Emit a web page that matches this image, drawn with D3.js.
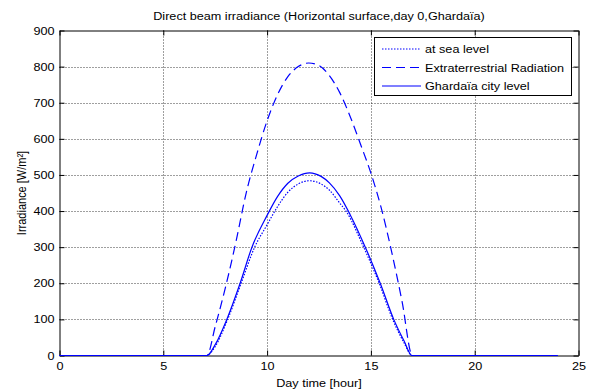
<!DOCTYPE html>
<html>
<head>
<meta charset="utf-8">
<script src="https://cdn.jsdelivr.net/npm/d3@7"></script>
<style>
  html, body { margin: 0; padding: 0; background: #fff; }
  svg { display: block; font-family: "Liberation Sans", Arial, sans-serif; }
</style>
</head>
<body>
<svg id="chart" width="590" height="392"></svg>
<script>
// ---- Data ----
const seaHours = [0, 7.1, 7.5, 8.1, 8.75, 9.4, 10, 10.5, 11, 11.5, 12.05, 12.6, 13, 13.5, 13.8, 14.65, 15.4, 16.05, 16.6, 16.98, 24];
const seaValues = [0, 0, 25, 100, 200, 300, 362, 412, 452, 475, 484, 475, 458, 422, 400, 300, 200, 100, 35, 0, 0];

const extraHours = [0, 7.1, 7.5, 8, 8.5, 9, 9.5, 10, 10.5, 11, 11.5, 12, 12.5, 13, 13.5, 14, 14.5, 15, 15.5, 16, 16.5, 17, 24];
const extraValues = [0, 0, 80, 190, 315, 452, 557, 650, 722, 772, 800, 810, 803, 775, 728, 662, 585, 505, 408, 287, 150, 0, 0];

const cityHours = [0, 7.1, 7.5, 8.06, 8.7, 9.27, 10, 10.5, 11, 11.5, 12.05, 12.6, 13, 13.5, 14, 14.73, 15.45, 16.1, 16.6, 16.98, 24];
const cityValues = [0, 0, 30, 100, 200, 300, 388, 440, 477, 497, 506, 496, 478, 442, 390, 300, 200, 100, 40, 0, 0];

const xTicks = [0, 5, 10, 15, 20, 25];
const yTicks = [0, 100, 200, 300, 400, 500, 600, 700, 800, 900];

const titleText = "Direct beam irradiance (Horizontal surface,day 0,Ghardaïa)";
const xLabel = "Day time [hour]";
const yLabel = "Irradiance [W/m²]";
const legendLabels = ["at sea level", "Extraterrestrial Radiation", "Ghardaïa city level"];

// ---- Layout ----
const svg = d3.select("#chart");
const L = 59.5, R = 578.5, T = 30.5, B = 355.5;
const SX = 1.15; // horizontal stretch of the text in the reference
const FS = 11;
const x = d3.scaleLinear().domain([0, 25]).range([L, R]);
const y = d3.scaleLinear().domain([0, 900]).range([B, T]);
const blue = "#0000ff";

svg.append("rect").attr("width", 590).attr("height", 392).attr("fill", "#fff");

// Grid
const grid = svg.append("g");
grid.selectAll(".vg").data(xTicks.slice(1, -1)).enter().append("line")
  .attr("x1", d => Math.round(x(d)) + 0.5).attr("x2", d => Math.round(x(d)) + 0.5)
  .attr("y1", T).attr("y2", B)
  .attr("stroke", "#000").attr("stroke-width", 1).attr("stroke-dasharray", "1,2").attr("opacity", 0.75);
grid.selectAll(".hg").data(yTicks.slice(1, -1)).enter().append("line")
  .attr("y1", d => Math.round(y(d)) + 0.5).attr("y2", d => Math.round(y(d)) + 0.5)
  .attr("x1", L).attr("x2", R)
  .attr("stroke", "#000").attr("stroke-width", 1).attr("stroke-dasharray", "1,2").attr("opacity", 0.75);

// Axes (box with inside ticks)
const axB = svg.append("g").attr("transform", `translate(0,${B})`)
  .call(d3.axisBottom(x).tickValues(xTicks).tickSizeInner(-5).tickSizeOuter(0).tickPadding(7));
const axT = svg.append("g").attr("transform", `translate(0,${T})`)
  .call(d3.axisTop(x).tickValues(xTicks).tickSizeInner(-5).tickSizeOuter(0).tickFormat(""));
const axL = svg.append("g").attr("transform", `translate(${L},0)`)
  .call(d3.axisLeft(y).tickValues(yTicks).tickSizeInner(-5).tickSizeOuter(0).tickPadding(5));
const axR = svg.append("g").attr("transform", `translate(${R},0)`)
  .call(d3.axisRight(y).tickValues(yTicks).tickSizeInner(-5).tickSizeOuter(0).tickFormat(""));
[axB, axT, axL, axR].forEach(a => {
  a.selectAll("path").attr("stroke", "#000").attr("stroke-width", 1);
  a.selectAll("line").attr("stroke", "#000");
  a.selectAll("text").attr("fill", "#000").attr("font-size", FS)
    .attr("font-family", "'Liberation Sans', Arial, sans-serif")
    .attr("transform", `scale(${SX},1)`);
});
axL.selectAll("text").attr("x", -5 / SX);

// Lines (drawn over the axis so the zero run covers it)
const line = (hs, vs) => d3.line()
  .x((d, i) => x(hs[i])).y((d, i) => y(vs[i]))
  .curve(d3.curveMonotoneX)(vs);

svg.append("path").attr("d", line(extraHours, extraValues))
  .attr("fill", "none").attr("stroke", blue).attr("stroke-width", 1.2).attr("stroke-dasharray", "9,5");
svg.append("path").attr("d", line(seaHours, seaValues))
  .attr("fill", "none").attr("stroke", blue).attr("stroke-width", 1.2).attr("stroke-dasharray", "1.5,1.5");
svg.append("path").attr("d", line(cityHours, cityValues))
  .attr("fill", "none").attr("stroke", blue).attr("stroke-width", 1.2);

// Title and labels
const stretched = (tx, ty, str, extra) => svg.append("text")
  .attr("transform", `translate(${tx},${ty}) scale(${SX},1)` + (extra || ""))
  .attr("text-anchor", "middle").attr("font-size", FS).attr("fill", "#000").text(str);
stretched((L + R) / 2, 20, titleText);
stretched((L + R) / 2, 387, xLabel);
svg.append("text").attr("transform", `translate(26,${(T + B) / 2}) rotate(-90) scale(1,${SX})`)
  .attr("text-anchor", "middle").attr("font-size", FS).attr("fill", "#000").text(yLabel);

// Legend
const lg = svg.append("g");
lg.append("rect").attr("x", 374.5).attr("y", 37.5).attr("width", 197).attr("height", 58)
  .attr("fill", "#fff").attr("stroke", "#000").attr("stroke-width", 1);
const dashes = ["1.5,1.5", "9,5", null];
const rowsY = [49, 67.5, 86];
legendLabels.forEach((lab, i) => {
  lg.append("line").attr("x1", 382).attr("x2", 421).attr("y1", rowsY[i]).attr("y2", rowsY[i])
    .attr("stroke", blue).attr("stroke-width", 1.2).attr("stroke-dasharray", dashes[i]);
  lg.append("text").attr("transform", `translate(425,${rowsY[i] + 4}) scale(${SX},1)`)
    .attr("font-size", FS).attr("fill", "#000").text(lab);
});
</script>
</body>
</html>
